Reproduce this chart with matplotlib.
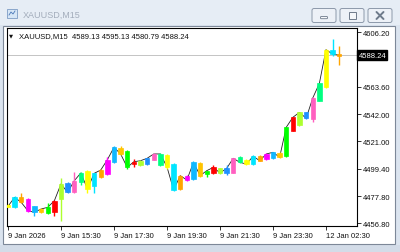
import matplotlib
matplotlib.use("Agg")
import matplotlib.pyplot as plt
import numpy as np
from matplotlib.patches import Rectangle, FancyBboxPatch

plt.rcParams['font.family'] = ['Liberation Sans', 'DejaVu Sans']

# ---- data (XAUUSD M15, 9 Jan 2026 13:30 .. 12 Jan 03:00) ----
opens = [4470.5, 4469.1, 4476.9, 4475.6, 4469.9, 4465.2, 4464.6, 4465.6, 4475.6, 4488.1,
         4480.8, 4488.7, 4497.3, 4486.0, 4492.6, 4495.2, 4504.3, 4515.3, 4513.4, 4502.8,
         4502.2, 4503.0, 4506.4, 4502.2, 4510.1, 4503.0, 4483.4, 4493.9, 4491.3, 4503.8,
         4495.2, 4496.0, 4499.6, 4496.0, 4496.0, 4508.3, 4506.4, 4503.0, 4509.1, 4506.9,
         4507.5, 4511.6, 4509.5, 4529.1, 4533.6, 4543.5, 4538.3, 4552.6, 4563.1, 4592.6,
         4589.13]
highs = [4471.5, 4477.8, 4480.3, 4476.2, 4470.5, 4468.4, 4472.5, 4475.0, 4491.8, 4489.0,
         4496.8, 4496.8, 4498.0, 4496.3, 4499.0, 4508.3, 4517.0, 4517.3, 4514.0, 4507.0,
         4506.2, 4508.1, 4511.6, 4511.4, 4511.0, 4504.0, 4494.5, 4494.5, 4505.0, 4504.5,
         4497.8, 4502.0, 4500.2, 4502.0, 4508.1, 4509.0, 4507.0, 4509.8, 4509.8, 4511.5,
         4512.8, 4512.2, 4532.4, 4540.2, 4544.1, 4544.0, 4555.3, 4566.8, 4593.2, 4601.0,
         4595.13]
lows = [4469.0, 4468.3, 4472.3, 4465.8, 4462.5, 4464.6, 4464.0, 4462.5, 4458.6, 4480.2,
        4480.2, 4486.6, 4480.3, 4480.3, 4492.0, 4494.6, 4503.6, 4510.3, 4499.1, 4500.7,
        4501.6, 4502.2, 4505.8, 4501.6, 4499.4, 4481.5, 4482.8, 4490.0, 4490.5, 4493.2,
        4492.6, 4495.5, 4495.5, 4494.4, 4495.6, 4503.7, 4502.4, 4502.4, 4505.0, 4506.3,
        4506.9, 4507.7, 4508.9, 4528.5, 4533.0, 4538.2, 4536.2, 4552.0, 4562.5, 4587.3,
        4580.79]
closes = [4469.9, 4476.9, 4473.0, 4466.4, 4465.2, 4467.8, 4469.1, 4474.3, 4487.4, 4480.8,
          4489.9, 4496.0, 4483.4, 4495.7, 4498.3, 4506.4, 4516.1, 4510.9, 4500.4, 4504.8,
          4505.6, 4507.5, 4510.9, 4510.9, 4500.7, 4482.7, 4493.9, 4490.5, 4504.3, 4493.9,
          4497.8, 4500.4, 4496.0, 4499.6, 4507.5, 4504.3, 4503.0, 4509.1, 4505.6, 4510.9,
          4512.2, 4508.3, 4531.8, 4539.6, 4543.5, 4538.8, 4554.7, 4566.2, 4592.6, 4589.13,
          4588.24]
xtick_bars = [0, 8, 16, 24, 32, 40, 48]
xtick_labels = ['9 Jan 2026', '9 Jan 15:30', '9 Jan 17:30', '9 Jan 19:30',
                '9 Jan 21:30', '9 Jan 23:30', '12 Jan 02:30']
ytick_values = [4606.20, 4584.90, 4563.60, 4542.00, 4521.00, 4499.40, 4477.80, 4456.80]
last_price = 4588.24
header = 'XAUUSD,M15  4589.13 4595.13 4580.79 4588.24'
title = 'XAUUSD,M15'

palette = ['#ffff00', '#00e5ff', '#ffa500', '#ff00ff', '#10b8ff', '#ffc400',
           '#00ff00', '#ff0000', '#adff2f', '#1e90ff', '#ff5fc0', '#00ff80']

W, H = 400, 253
fig = plt.figure(figsize=(W / 100, H / 100), dpi=100)

# ---- window chrome ----
bg = fig.add_axes([0, 0, 1, 1])
bg.set_xlim(0, W)
bg.set_ylim(H, 0)
bg.axis('off')
bg.add_patch(Rectangle((0, 0), W, H, facecolor='#dbe4ef', edgecolor='none'))
bg.add_patch(Rectangle((0, 0), W, 26, facecolor='#e6edf5', edgecolor='none'))
bg.add_patch(Rectangle((0, 246), W, 7, facecolor='#d3dce8', edgecolor='none'))
bg.add_patch(Rectangle((3, 26.5), 391.5, 218, facecolor='white', edgecolor='#7d8898', lw=0.8))
# icon
bg.add_patch(Rectangle((7, 10), 10, 9, facecolor='#d6e6f6', edgecolor='#7d9cc4', lw=0.6))
bg.plot([9, 11, 13, 15], [16, 13, 15, 12], color='#4a78b8', lw=0.6)
bg.text(23, 15.5, title, fontsize=6.5, color='#a3adbb', va='center', ha='left')
# buttons
for bx, bw in [(312, 24), (340, 24), (368, 24)]:
    bg.add_patch(FancyBboxPatch((bx, 9.5), bw, 14, boxstyle='round,pad=0,rounding_size=2',
                                facecolor='#edf1f7', edgecolor='#8d99aa', lw=0.7))
bg.add_patch(FancyBboxPatch((320.5, 17.5), 7, 2.2, boxstyle='round,pad=0,rounding_size=0.8',
                            facecolor='#f5f7fa', edgecolor='#6f7b8b', lw=0.6))
bg.add_patch(Rectangle((348.5, 13), 7, 6.5, facecolor='#f5f7fa', edgecolor='#6f7b8b', lw=0.7))
bg.plot([376.5, 383.5], [13, 20], color='#6f7b8b', lw=1.4, solid_capstyle='round')
bg.plot([376.5, 383.5], [20, 13], color='#6f7b8b', lw=1.4, solid_capstyle='round')

# ---- chart ----
px_left, px_right, px_top, px_bottom = 7, 357, 29, 226.7
ax = fig.add_axes([px_left / W, 1 - px_bottom / H, (px_right - px_left) / W,
                   (px_bottom - px_top) / H])
ax.set_facecolor('white')

x = np.arange(len(closes))
o = np.array(opens)
c = np.array(closes)
h = np.array(highs)
l = np.array(lows)
cols = [palette[i % len(palette)] for i in range(len(closes))]

ax.axhline(last_price, color='#c4c4c4', lw=0.7, zorder=1)
ax.plot(x, c, color='#222222', lw=0.6, zorder=2)
ax.vlines(x, l, h, colors=cols, lw=1.0, zorder=3)
body_h = np.maximum(np.abs(c - o), 1.6)
body_b = np.minimum(o, c) - (body_h - np.abs(c - o)) / 2
ax.bar(x, body_h, bottom=body_b, width=0.66, color=cols, edgecolor=cols, lw=0.5, zorder=4)

ax.set_xlim(-0.15, 52.68)
ax.set_ylim(4454.7, 4609.57)

ax.yaxis.tick_right()
ax.set_yticks(ytick_values)
# the 4584.90 label is hidden behind the current-price box in the reference
ax.set_yticklabels(['' if abs(v - 4584.90) < 0.01 else f'{v:.2f}' for v in ytick_values])
ax.set_xticks(xtick_bars)
ax.set_xticklabels(xtick_labels)
for lab in ax.get_xticklabels():
    lab.set_ha('left')
ax.tick_params(axis='both', direction='out', length=3, width=0.6, labelsize=5.5,
               colors='#111111', pad=1.5)
for sp in ax.spines.values():
    sp.set_linewidth(0.8)
    sp.set_color('black')

ax.text(1.004, last_price, f'{last_price:.2f}', transform=ax.get_yaxis_transform(),
        ha='left', va='center', color='white', fontsize=5.5, zorder=10, clip_on=False,
        bbox=dict(boxstyle='square,pad=0.18', fc='black', ec='black'))

ax.text(0.007, 0.963, '\u25bc', transform=ax.transAxes, fontsize=3.8, color='#111111',
        ha='left', va='center', family='DejaVu Sans')
ax.text(0.035, 0.963, header, transform=ax.transAxes, fontsize=5.5, color='#111111',
        ha='left', va='center')

fig.savefig('out.png', dpi=100)
